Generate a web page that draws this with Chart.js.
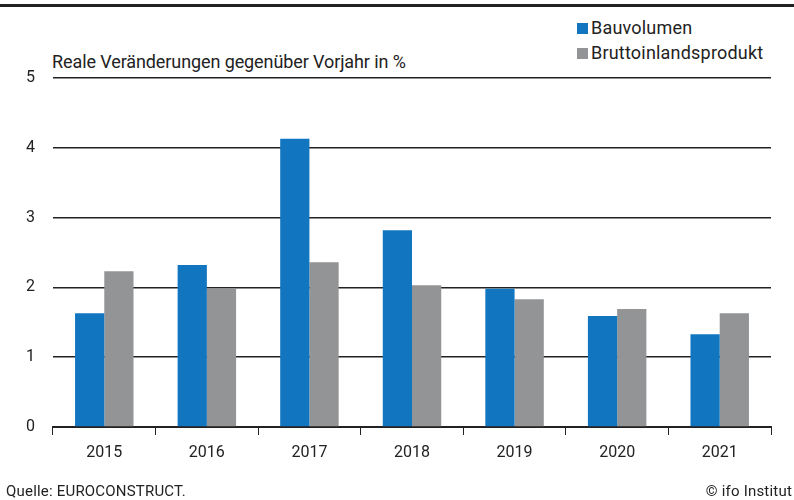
<!DOCTYPE html>
<html lang="de">
<head>
    <meta charset="UTF-8">
    <title>Bauvolumen und Bruttoinlandsprodukt</title>
    <script src="https://cdn.jsdelivr.net/npm/chart.js"></script>
    <style>
        body {
            margin: 0;
            font-family: Roboto, sans-serif;
            color: #222;
        }
        #wrap {
            position: relative;
            width: 794px;
            height: 500px;
            overflow: hidden;
            background: #fff;
        }
        #topline {
            position: absolute;
            left: 0; top: 4px;
            width: 794px; height: 3px;
            background: #222;
        }
        #ytitle {
            position: absolute;
            left: 52px; top: 51px;
            font-size: 18px;
            letter-spacing: -0.1px;
        }
        #legend {
            position: absolute;
            left: 577px; top: 18px;
            font-size: 18px;
            letter-spacing: 0.2px;
        }
        #legend div {
            height: 25px;
            line-height: 20px;
        }
        #legend span.box {
            display: inline-block;
            width: 11px; height: 11px;
            margin-right: 3px;
        }
        .foot {
            position: absolute;
            top: 482px;
            font-size: 15px;
            letter-spacing: 0.2px;
        }
        canvas { position: absolute; left: 0; top: 0; }
    </style>
</head>
<body>
<div id="wrap">
    <div id="topline"></div>
    <div id="ytitle">Reale Veränderungen gegenüber Vorjahr in %</div>
    <div id="legend"></div>
    <canvas id="chart" width="794" height="500"></canvas>
    <div class="foot" style="left:6px">Quelle: EUROCONSTRUCT.</div>
    <div class="foot" style="right:2px">© ifo Institut</div>
</div>

<script>
    // values
    const years = ['2015', '2016', '2017', '2018', '2019', '2020', '2021'];
    const bauvolumen = [1.63, 2.32, 4.13, 2.82, 1.98, 1.59, 1.33];
    const bip = [2.23, 1.98, 2.36, 2.03, 1.83, 1.69, 1.63];
    const yTicks = [0, 1, 2, 3, 4, 5];

    const series = [
        { label: 'Bauvolumen', data: bauvolumen, color: '#1176bf' },
        { label: 'Bruttoinlandsprodukt', data: bip, color: '#939496' }
    ];

    // legend as html, top right
    const legend = document.getElementById('legend');
    series.forEach(s => {
        const row = document.createElement('div');
        row.innerHTML = '<span class="box" style="background:' + s.color + '"></span>' + s.label;
        legend.appendChild(row);
    });

    Chart.defaults.font.family = 'Roboto, sans-serif';
    Chart.defaults.color = '#222';

    new Chart(document.getElementById('chart'), {
        type: 'bar',
        data: {
            labels: years,
            datasets: series.map(s => ({
                label: s.label,
                data: s.data,
                backgroundColor: s.color,
                borderWidth: 0,
                categoryPercentage: 0.57,
                barPercentage: 1.0
            }))
        },
        options: {
            responsive: false,
            animation: false,
            layout: { padding: { left: 0, right: 23, top: 78, bottom: 0 } },
            plugins: {
                legend: { display: false },
                tooltip: { enabled: false }
            },
            scales: {
                x: {
                    grid: {
                        offset: true,
                        drawOnChartArea: false,
                        color: '#222',
                        lineWidth: 1,
                        tickLength: 8
                    },
                    border: { color: '#222', width: 2 },
                    ticks: { font: { size: 16 }, padding: 8 },
                    afterFit: s => { s.height = 73; }
                },
                y: {
                    min: 0,
                    max: 5,
                    afterBuildTicks: s => { s.ticks = yTicks.map(v => ({ value: v })); },
                    grid: { color: '#222', lineWidth: 1.5, drawTicks: false },
                    border: { display: false },
                    ticks: { font: { size: 16 }, padding: 18 },
                    afterFit: s => { s.width = 53; }
                }
            }
        }
    });
</script>
</body>
</html>
